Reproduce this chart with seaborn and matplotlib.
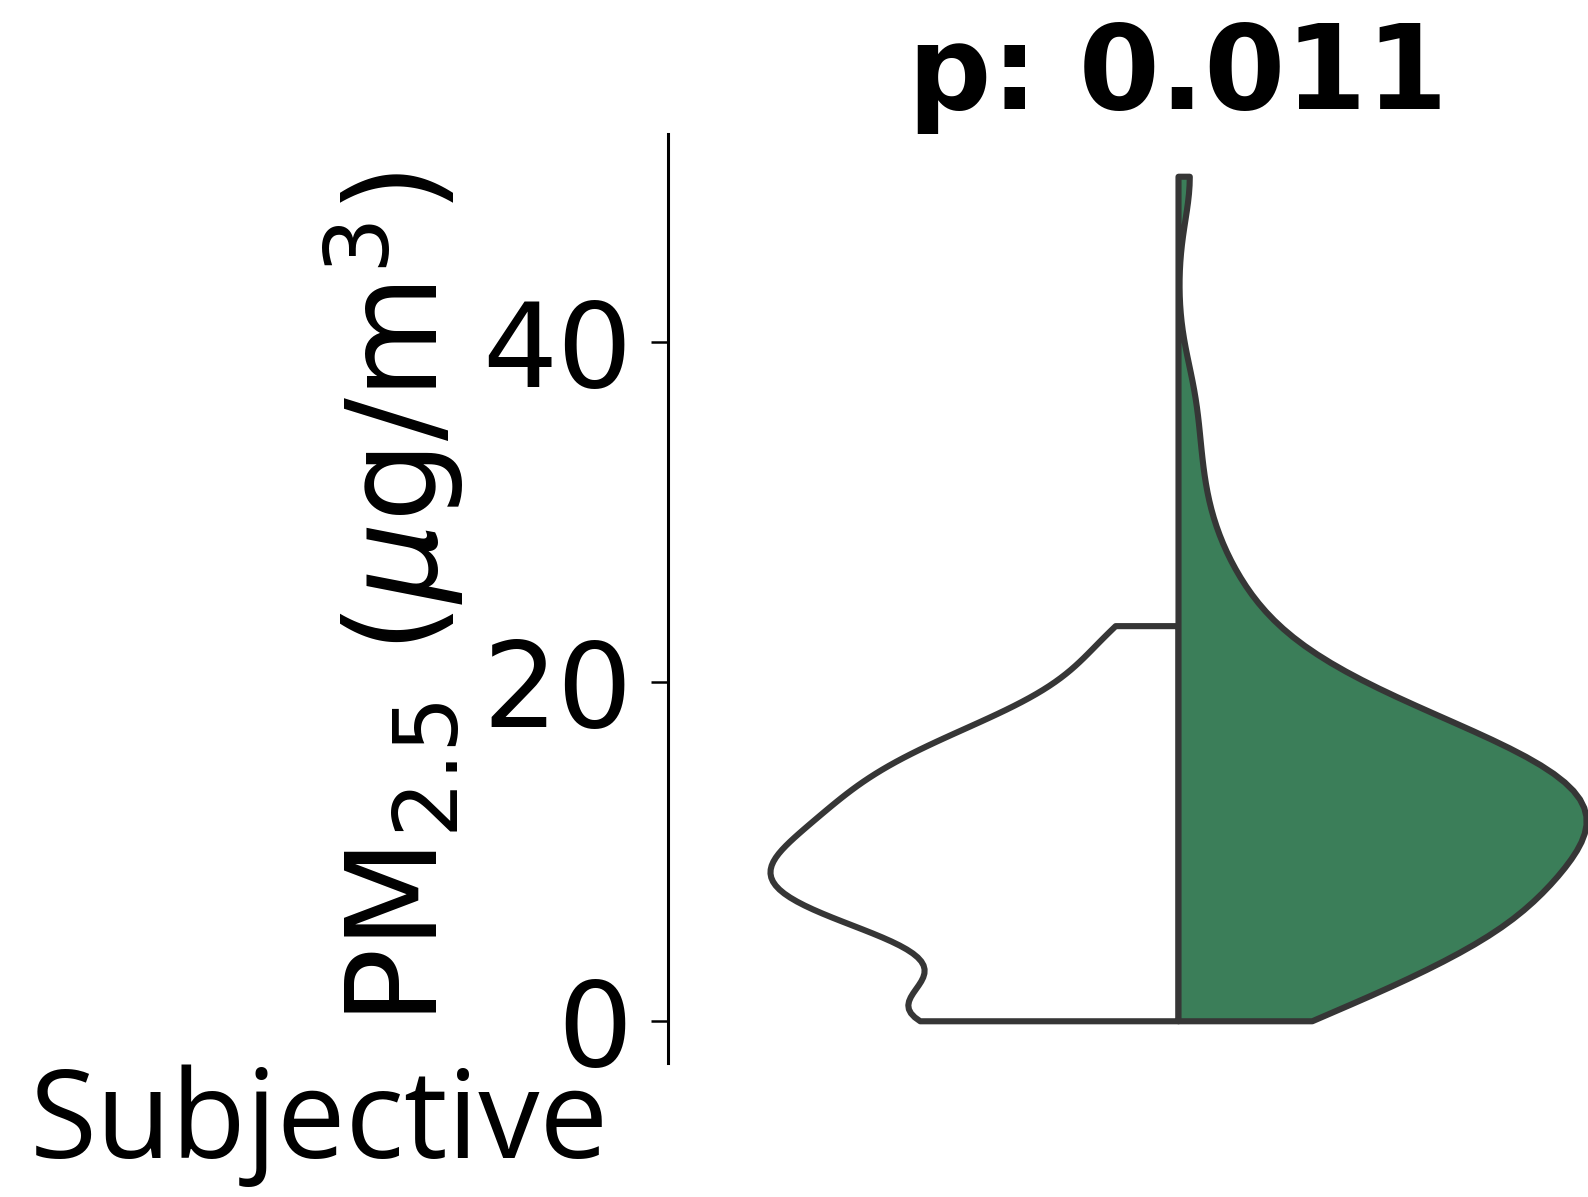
import matplotlib
matplotlib.use("Agg")
import matplotlib.pyplot as plt
import seaborn as sns
import pandas as pd

group_names = ["Group A", "Group B"]
group_colors = ["#ffffff", "#3b7e59"]

values_a = [0.0, 0.0, 0.0, 0.0, 0.0, 0.0, 0.0, 0.0, 0.0, 0.5, 1.3,
            2.6, 3.5,
            4.3, 4.7, 5.1, 5.5, 5.9,
            6.2, 6.5, 6.8, 7.1, 7.4, 7.6, 7.8,
            8.0, 8.25, 8.5, 8.75, 9.0, 9.3, 9.6, 9.9,
            10.2, 10.5, 10.9, 11.2, 11.5, 11.8,
            12.2, 12.5, 12.9, 13.2, 13.6, 13.9,
            14.3, 14.7, 15.0, 15.4, 15.8,
            16.2, 16.7, 17.2, 17.8,
            18.6, 19.4,
            21.0,
            22.4, 23.3]

values_b = [0.0, 0.0, 0.3, 0.6, 0.9, 1.2, 1.5, 1.8,
            2.4, 2.9, 3.3, 3.6, 3.9,
            4.0, 4.2, 4.4, 4.6, 4.8, 5.0, 5.2, 5.4, 5.7, 5.9,
            6.1, 6.3, 6.5, 6.7, 6.9, 7.1, 7.3, 7.5, 7.7, 7.9,
            8.1, 8.3, 8.5, 8.7, 8.9, 9.1, 9.3, 9.5, 9.7, 9.9,
            10.1, 10.2, 10.4, 10.6, 10.7, 10.9, 11.1, 11.2, 11.4, 11.6, 11.7, 11.9,
            12.1, 12.2, 12.4, 12.6, 12.7, 12.9, 13.1, 13.2, 13.4, 13.6, 13.7, 13.9,
            14.1, 14.3, 14.4, 14.6, 14.8, 15.0, 15.2, 15.4, 15.6, 15.8, 15.9,
            16.1, 16.3, 16.6, 16.8, 17.0, 17.3, 17.5, 17.8,
            18.1, 18.4, 18.8, 19.1, 19.5, 19.8,
            20.3, 20.8, 21.3, 21.9,
            22.6, 23.5,
            24.4, 25.4, 26.6, 28.2, 30.5, 33.5, 37.0,
            49.8]

category = "Subjective"
y_ticks = [0, 20, 40]
title_text = "p: 0.011"
y_label = r"PM$_{2.5}$ ($\mu$g/m$^3$)"

df = pd.DataFrame({
    "cat": [category] * (len(values_a) + len(values_b)),
    "group": [group_names[0]] * len(values_a) + [group_names[1]] * len(values_b),
    "pm": values_a + values_b,
})

sns.set_style("white")
plt.rcParams["font.family"] = ["DejaVu Sans"]
plt.rcParams["text.color"] = "black"
plt.rcParams["axes.labelcolor"] = "black"
plt.rcParams["ytick.color"] = "black"
plt.rcParams["xtick.color"] = "black"

fig = plt.figure(figsize=(15.88, 11.97), dpi=100)
ax = fig.add_axes([668 / 1588, 1 - 1063 / 1197, 1020 / 1588, 929 / 1197])

sns.violinplot(data=df, x="cat", y="pm", hue="group", hue_order=group_names,
               split=True, cut=0, inner=None, bw_adjust=0.8, density_norm="width",
               palette=dict(zip(group_names, group_colors)), saturation=1,
               linewidth=4.4, linecolor="#363636", legend=False, ax=ax)

ax.set_xlim(-0.5, 0.5)
ax.set_yticks(y_ticks)
ax.set_xticks([])
ax.set_xlabel("")
for s in ["top", "right", "bottom"]:
    ax.spines[s].set_visible(False)
ax.spines["left"].set_linewidth(2.2)
ax.spines["left"].set_color("black")
ax.tick_params(axis="y", labelsize=85, length=12, width=1.8, pad=13.5, left=True, colors="black")
ax.set_ylabel(y_label, fontsize=91.5, labelpad=12)
ax.set_title(title_text, fontsize=84, fontweight="bold", pad=17.5)

fig.text(319 / 1588, 1 - 1158 / 1197, category, fontsize=88, family="Open Sans",
         ha="center", va="baseline", color="black")

fig.savefig("out.png", dpi=100)
